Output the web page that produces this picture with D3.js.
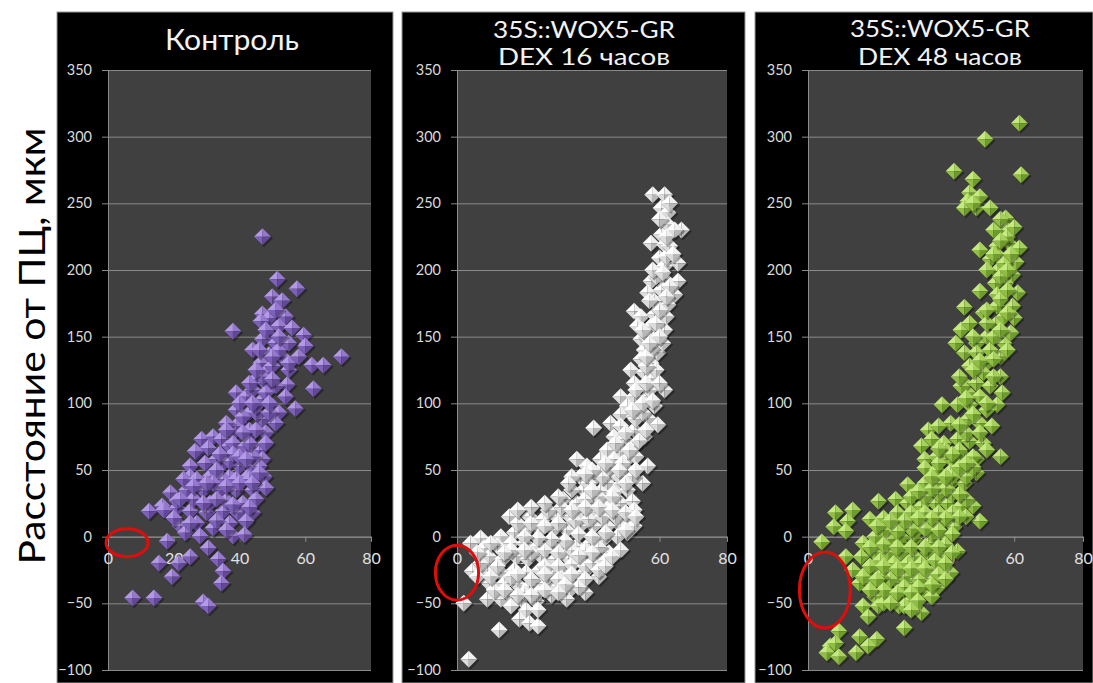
<!DOCTYPE html>
<html>
<head>
<meta charset="utf-8">
<script src="https://cdn.jsdelivr.net/npm/d3@7"></script>
<style>
  html, body { margin: 0; padding: 0; background: #fff; }
  svg { display: block; }
  text { font-family: Lato, "Open Sans", sans-serif; }
</style>
</head>
<body>
<svg id="chart" width="1093" height="683"></svg>
<script>
// ---- data -------------------------------------------------------------
const panelTitles = [
  ["Контроль"],
  ["35S::WOX5-GR", "DEX 16 часов"],
  ["35S::WOX5-GR", "DEX 48 часов"]
];
const yAxisTitle = "Расстояние от ПЦ, мкм";
const xTicks = [0, 20, 40, 60, 80];
const yTicks = [-100, -50, 0, 50, 100, 150, 200, 250, 300, 350];

// Control roots: [width, distance]
const controlPoints = [
  [47,225],[51.5,193],[57.5,186],[50,180],[53,177],[54,165],[47,167],[49,164],[46.5,161.5],[38,154],
  [52,158],[56,156.5],[59.5,151],[49,151.5],[47,148],[51,145],[60,143],[71,135],[62,128.5],[65.5,128.5],
  [49,136.5],[53,135],[55,125],[46.5,130],[48,123],[45,118],[54.5,114],[62.5,111],[39,108],[42,105],
  [47,103],[50,98],[57,96],[52,93],[39,95],[43,93],[47,88],[40,85],[51,85],[38,78],[43,75],[48,78],
  [28.5,73],[32,75],[34.5,73],[27,63],[30.5,66.5],[37,68],[41,65],[46,65],[47,58],[25,53],[29.5,55],
  [35,55],[40,53],[44,53],[25,45],[31,45],[37,45],[42.5,45],[47.5,45],[19,33],[24,35],[29,35],[34,35],
  [39,35],[44,35],[48,36.5],[51,113],[45,93],[49,93],[39,83],[43,80],[26.5,64],[38,70],[42,68],[33,58],
  [37,56.5],[46,53],[23,43],[27,43],[35,43],[39,43],[43,43],[12.5,19],[16.5,23],[21,21.5],[25,19],[30,18],
  [35,19],[39.5,18],[44,18],[22,8],[27,10],[32,6.5],[37,10],[42,11.5],[18,-3.5],[23.5,3],[28,0.5],[38,0.5],
  [41.5,1.5],[30.5,-8.5],[25,-15],[33.5,-17],[15.5,-20],[21.5,-20],[35,-26],[19.5,-30],[34.5,-35],
  [7.5,-46],[14,-46],[29,-49],[30.5,-52],[21,27],[26,28],[31,25],[36,27],[41,25],[45,28],[33,50],[38,62],
  [44,60],[36,85],[41,90],[45,98],[44,110],[48,115],[50,128],[52,140],[55,145],[44,140],
  [32,40],[36,38],[40,40],[44,40],[34,62],[40,60],[43,70],[45,80],[41,78],[36,80],[40,100],[44,100],
  [48,108],[43,115],[47,120],[50,118],[45,125],[50,135],[46,140],[52,150],[48,155],[51,170],[29,25],
  [33,28],[38,24],[43,22],[26,38],[30,40],[22,28],[17,20],[33,12],[36,5],[25,10],[20,14],[46,48],[42,58],
  [48,70],[49,100],[54,105],[55,130],[58,135]
];

// 35S::WOX5-GR, DEX 16 h
const dex16Points = [
  [58,256.5],[61.5,256.5],[60.5,246.5],[62.5,243],[62.5,234],[66.5,230],[64.5,230],[60.5,226.5],[57.5,220],
  [61.5,219],[60,209],[65.5,205],[61.5,203],[57.5,191.5],[61.5,193],[65.5,191.5],[56.5,183],[60.5,185],
  [64.5,181.5],[58.5,176.5],[62.5,174],[52.5,169],[54.5,165],[58.5,166.5],[62,165],[53.5,158],[57.5,158],
  [61.5,155],[54.5,148],[58.5,148],[55.5,140],[59.5,138],[54.5,133],[57.5,130],[51.5,125],[55.5,123],
  [57.5,119],[52.5,115],[61.5,110],[48.5,105],[52.5,105],[56.5,105],[50.5,98],[54.5,98],[58.5,98],
  [48.5,91.5],[52.5,90],[56.5,89],[59.5,84],[40.5,81.5],[45.5,85],[48.5,83],[52.5,80],[55.5,75],[46.5,75],
  [49.5,73],[52.5,68],[44.5,65],[48.5,63],[42.5,58],[46.5,58],[50.5,58],[35.5,58],[56.5,53],[38.5,53],
  [42.5,50],[46.5,48],[50.5,50],[36.5,45],[40.5,43],[44.5,40],[48.5,39],[37.5,35],[42.5,34],[46.5,33],
  [50.5,35],[31.5,28],[35.5,25],[40.5,25],[44.5,25],[48.5,25],[52,26.5],
  [15.5,15],[21.5,15],[25.5,13],[29.5,15],[33.5,15],[37.5,18],[41.5,18],[45.5,23],[52.5,20],[51.5,13],
  [48.5,8],[44.5,8],[40.5,8],[36.5,8],[32.5,5],[28.5,5],[24.5,5],[20.5,5],[17,3],[13,0],[7,-1],[4,-5],
  [8,-8.5],[12,-7],[16,-5],[20,-5],[24,-7],[28,-7],[31.5,-7],[35.5,-7],[39.5,-5],[43.5,-2],[47.5,0],
  [50.5,3],[52.5,8],[9.5,-15],[13.5,-17],[17.5,-15],[21,-17],[25,-15],[29,-17],[33,-16],[37,-17],[41,-15],
  [45,-12],[48.5,-10],[4.5,-26],[9,-25],[13,-27],[17,-25],[20.5,-27],[24.5,-25],[28.5,-27],[32.5,-26],
  [37.5,-27],[42,-30],[9.5,-35],[14,-35],[18,-36],[21.5,-37],[25.5,-35],[29.5,-37],[33.5,-40],[38,-42],
  [2,-50],[9,-47],[13,-47],[19,-47],[23.5,-48.5],[32.5,-47],[20.5,-55],[18.5,-62],[21.5,-65],[24,-67],
  [12.5,-70],[3.5,-92],
  [27,20],[31,22],[35,12],[39,13],[43,15],[47,15],[38,28],[42,30],[46,30],[34,35],[39,40],[43,45],[48,45],
  [45,52],[49,55],[53,60],[51,65],[47,70],[54,72],[50,78],[56,80],[53,88],[55,93],[57,110],[53,110],
  [56,115],[59,125],[56,128],[58,142],[61,145],[56,150],[59,160],[60,170],[57,177],[63,188],[59,195],
  [62,210],[63,218],[60,238],[63,250],[22,-12],[26,-10],[30,-12],[34,-10],[38,-10],[42,-8],[26,-22],
  [30,-22],[34,-21],[38,-22],[40,-20],[44,-18],[27,-30],[31,-31],[35,-32],[16,-30],[12,-22],[7,-20],
  [11,-40],[15,-42],[20,-42],[24,-42],[28,-44],[16,-52],[24,-55],
  [18,10],[22,10],[26,8],[30,10],[34,20],[30,30],[26,25],[22,22],[18,20],[38,22],[42,22],[46,20],[50,18],
  [36,2],[40,0],[44,3],[32,-3],[28,-2],[24,-1],[20,0],[16,-10],[20,-10],[14,-12],[10,-5],[6,-12],[6,-30],
  [10,-30],[18,-28],[22,-32],[26,-28],[30,-32],[34,-28],[38,-32],[36,-38],[32,-36],[14,-40],[18,-44],
  [22,-44],[26,-40],[30,-42],[42,-25],[44,-22],[46,-15],[40,-12],[36,-14],[50,5],[53,15],[55,40],[52,45],
  [48,50],[53,50],[50,40],[44,55],[40,50],[38,47],[34,45],[33,40],[40,35],[55,100],[52,95],[58,102],
  [60,115],[56,135],[60,150],[57,145],[55,155],[62,180],[58,200],[61,198],[64,212],[62,225]
];

// 35S::WOX5-GR, DEX 48 h
const dex48Points = [
  [61.5,310],[51.5,298],[42.5,274],[48,268],[62,271.5],[47,258],[46.5,251.5],[49,246.5],[45.5,246.5],
  [53,246.5],[57.5,239],[58,230],[56.5,224],[58.5,220],[61.5,216.5],[50,215],[55,218],[53,208],[56,209],
  [60.5,206],[55,199],[59.5,196.5],[57.5,190],[54.5,190],[50,184],[61,183],[55,181.5],[45.5,172],[51,168],
  [55,173],[59.5,173],[57,165],[60,164],[54.5,159],[44.5,155],[59,153],[43,145],[52,150],[57,145],[49,145],
  [45.5,138],[49,138],[56,135],[52,130],[47,128],[56,120],[51,123],[45.5,115],[49,115],[53,113],
  [56.5,108],[46.5,108],[50,105],[39,99],[43.5,99],[47,99],[55,99],
  [44.5,113],[52,95],[41.5,85],[46.5,88],[50,85],[53.5,83],[35,80],[38,83],[36,73],[39.5,70],[43.5,73],
  [47,71.5],[51,70],[33,68],[56,60],[34,58],[37.5,60],[41.5,58],[45.5,60],[49,58],[34,51.5],[37.5,50],
  [41.5,49],[45.5,50],[49,48],[29,39],[34,40],[37.5,40],[41.5,40],[45.5,40],[20.5,26.5],[25.5,28],
  [29,25],[33,23],[37,25],[40.5,25],[44.5,23],[48,23],[8,18],[13,20],[18,13],[50,11.5],[7.5,7.5],
  [11.5,11.5],[11,4],[23.5,7.5],[27,7.5],[31,10],[35,10],[38.5,10],[42.5,7.5],[4,-4],[16,-5],[19.5,0],
  [23.5,-2],[27,-5],[31,-2],[35,-5],[38.5,-2],[43.5,-11],[11,-15],[15.5,-15],[19.5,-12],[23.5,-12],
  [27,-12],[31,-15],[35,-12],[38.5,-15],[13,-25],[17,-27],[20.5,-25],[24.5,-27],[28,-25],[33,-27],
  [37,-25],[41.5,-27],[15,-35],[18.5,-35],[22.5,-37],[26.5,-35],[30,-35],[34,-37],[37.5,-38.5],
  [19.5,-45],[23.5,-42],[28,-45],[33,-42],[36,-45],[16,-52],[20.5,-52],[26.5,-52],[33,-57],[17.5,-60],
  [28,-68.5],[9,-71],[15,-75],[20,-77],[6.5,-82],[8,-80],[14,-87],[17.5,-82],[5.5,-87],[9,-90],
  [44,120],[48,125],[53,140],[58,140],[54,150],[47,160],[52,160],[56,178],[58,185],[52,200],[57,205],
  [59,212],[54,230],[56,238],[48,60],[52,65],[44,65],[40,65],[38,55],[42,45],[46,45],[30,30],[34,30],
  [38,32],[42,32],[26,18],[30,18],[34,18],[38,18],[42,18],[22,14],[46,15],[27,0],[31,3],[36,3],[40,-6],
  [21,-18],[25,-20],[29,-20],[33,-20],[37,-18],[40,-20],[24,-32],[28,-30],[32,-32],[36,-31],[21,-30],
  [25,-45],[30,-48],[22,-50],
  [22,5],[26,4],[30,6],[34,6],[38,5],[42,2],[44,15],[40,14],[36,14],[32,14],[28,12],[24,12],[20,8],
  [18,-8],[22,-6],[26,-8],[30,-8],[34,-8],[38,-8],[42,-12],[18,-22],[22,-22],[26,-24],[30,-24],[34,-24],
  [38,-28],[16,-30],[20,-32],[28,-38],[32,-38],[36,-36],[40,-32],[22,-40],[26,-42],[30,-42],[18,-40],
  [32,-48],[28,-52],[24,-50],[30,-55],[46,28],[44,32],[40,36],[36,36],[32,34],[36,45],[40,45],[44,52],
  [48,52],[46,55],[42,62],[38,66],[46,78],[50,78],[44,84],[48,92],[52,100],[46,104],[54,120],[50,132],
  [54,133],[48,150],[56,155],[52,170],[58,168],[56,195],[58,200],[54,212],[58,225],[60,232],[56,222],
  [50,255],[48,250]
];

// Highlighted empty zone near the origin: [cx, cy, rx, ry] in data units
const highlightZones = [
  [5.8, -4.5, 6.4, 10.5],
  [0, -27, 6.4, 20.6],
  [4.9, -40, 7.4, 28.5]
];

// ---- layout & style ---------------------------------------------------
const panels = [
  { points: controlPoints, title: panelTitles[0], zone: highlightZones[0],
    box: [57, 393], plot: [108, 371], titleX: 232, titleW: [134], titleY: [50],
    pal: ["#b39ae6", "#9678cf", "#7d60b8", "#624896"] },
  { points: dex16Points, title: panelTitles[1], zone: highlightZones[1],
    box: [402, 745], plot: [457, 727], titleX: 584, titleW: [182, 172], titleY: [38, 65],
    pal: ["#ffffff", "#f0f0f0", "#dcdcdc", "#b8b8b8"] },
  { points: dex48Points, title: panelTitles[2], zone: highlightZones[2],
    box: [755, 1093], plot: [808, 1083], titleX: 940, titleW: [180, 164], titleY: [37, 65],
    pal: ["#c4ea80", "#a6d15a", "#90be44", "#6e9c2c"] }
];
const plotTop = 70, plotBottom = 670;

const svg = d3.select("#chart");

// rotated y-axis title on the white margin
svg.append("text")
  .attr("transform", "translate(45,346) rotate(-90)")
  .attr("text-anchor", "middle")
  .attr("font-size", 36)
  .attr("textLength", 437)
  .attr("lengthAdjust", "spacingAndGlyphs")
  .attr("fill", "#000")
  .text(yAxisTitle);

panels.forEach(p => {
  const g = svg.append("g");

  // black card behind each chart
  g.append("rect")
    .attr("x", p.box[0]).attr("y", 12)
    .attr("width", p.box[1] - p.box[0]).attr("height", 671)
    .attr("fill", "#000").attr("stroke", "#9a9a9a").attr("stroke-width", 1);

  const x = d3.scaleLinear().domain([0, 80]).range(p.plot);
  const y = d3.scaleLinear().domain([-100, 350]).range([plotBottom, plotTop]);

  // plot area
  g.append("rect")
    .attr("x", x(0)).attr("y", y(350))
    .attr("width", x(80) - x(0)).attr("height", y(-100) - y(350))
    .attr("fill", "#404040");

  // y axis with gridlines
  const yAxis = g.append("g")
    .attr("transform", `translate(${x(0)},0)`)
    .call(d3.axisLeft(y).tickValues(yTicks).tickSize(-(x(80) - x(0))).tickPadding(16));
  yAxis.select(".domain").attr("stroke", "#8c8c8c");
  yAxis.selectAll(".tick line").attr("stroke", "#8a8a8a").attr("x1", -6);
  yAxis.selectAll(".tick text")
    .attr("fill", "#dadada").attr("font-size", 14.5)
    .attr("font-family", "Lato, 'Open Sans', sans-serif");

  // x axis crossing at zero
  const xAxis = g.append("g")
    .attr("transform", `translate(0,${y(0)})`)
    .call(d3.axisBottom(x).tickValues(xTicks).tickSize(5).tickPadding(11));
  xAxis.select(".domain").attr("stroke", "#8c8c8c");
  xAxis.selectAll(".tick line").attr("stroke", "#8c8c8c");
  xAxis.selectAll(".tick text")
    .attr("fill", "#e2e2e2").attr("font-size", 16)
    .attr("font-family", "Lato, 'Open Sans', sans-serif");

  // titles
  p.title.forEach((t, i) => {
    g.append("text")
      .attr("x", p.titleX).attr("y", p.titleY[i])
      .attr("text-anchor", "middle")
      .attr("font-size", p.title.length === 1 ? 28 : 23)
      .attr("textLength", p.titleW[i])
      .attr("lengthAdjust", "spacingAndGlyphs")
      .attr("fill", "#f2f2f2")
      .text(t);
  });

  // pyramid-shaded diamond markers
  const s = 8.5;
  const marks = g.append("g").selectAll("g")
    .data(p.points).join("g")
    .attr("transform", d => `translate(${x(d[0])},${y(d[1])})`);
  marks.append("path")
    .attr("d", `M1.5,${-s + 2}L${s + 2},1.5L1.5,${s + 2}L${-s + 1},1.5Z`)
    .attr("fill", "rgba(0,0,0,0.35)");
  const facets = [
    [`M0,0L0,${-s}L${-s},0Z`, 0],
    [`M0,0L0,${-s}L${s},0Z`, 1],
    [`M0,0L${-s},0L0,${s}Z`, 2],
    [`M0,0L${s},0L0,${s}Z`, 3]
  ];
  facets.forEach(([d, k]) => {
    marks.append("path").attr("d", d).attr("fill", p.pal[k]);
  });

  // red outline around the empty zone near the origin
  const z = p.zone;
  g.append("ellipse")
    .attr("cx", x(z[0])).attr("cy", y(z[1]))
    .attr("rx", x(z[2]) - x(0)).attr("ry", y(0) - y(z[3]))
    .attr("fill", "none").attr("stroke", "#e00d0d").attr("stroke-width", 3);
});
</script>
</body>
</html>
